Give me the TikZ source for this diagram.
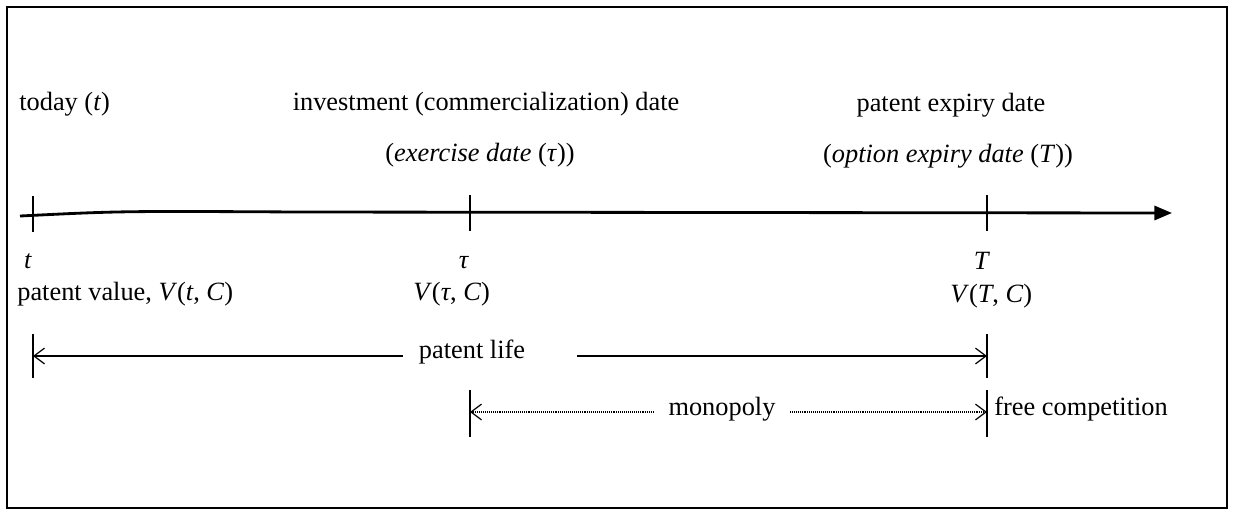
\documentclass[tikz,border=0pt]{standalone}
\usepackage{fontspec}
\setmainfont{Liberation Serif}
\usepackage{tikz}
\usetikzlibrary{arrows.meta}
\tikzset{
  frame/.style={line width=0.8pt,draw=black},
  axis/.style={line width=1.6pt,-{Triangle[length=10pt,width=8pt]}},
  tick/.style={line width=0.8pt},
  span/.style={line width=0.7pt,-{Straight Barb[length=6pt,width=9pt]}},
  dotspan/.style={line width=0.6pt,dash pattern=on 0.5pt off 0.6pt,
    -{Straight Barb[length=6pt,width=9pt,line width=0.7pt]}},
  lbl/.style={inner sep=0pt,font=\fontsize{15}{18}\selectfont}
}
\newcommand{\itx}[1]{\textit{#1}}

\begin{document}
\begin{tikzpicture}[x=0.02cm,y=-0.02cm]
  \useasboundingbox (0,0) rectangle (1233,515);
  \draw[frame] (7,7) rectangle (1227,508);

  % time axis
  \coordinate (start) at (20,216);
  \coordinate (tip) at (1172,213);
  \coordinate (t) at (33,214);
  \coordinate (tau) at (470,213);
  \coordinate (T) at (987,213);
  \draw[axis] (start) .. controls (120,211) .. (300,212) -- (tip);
  \foreach \p in {t,tau,T}
    \draw[tick] ([yshift=10pt]\p) -- ([yshift=-10pt]\p);

  \node[lbl,anchor=base west] (today) at (19,110) {today (\itx{t})};
  \node[lbl,anchor=base] (invest) at (486,110) {investment (commercialization) date};
  \node[lbl,anchor=base] (exer) at (480,161) {(\itx{exercise date} (\itx{τ}))};
  \node[lbl,anchor=base] (expiry) at (951,111) {patent expiry date};
  \node[lbl,anchor=base] (option) at (948,162) {(\itx{option expiry date} (\itx{T}))};

  \node[lbl,anchor=base] (tlab) at (28,268) {\itx{t}};
  \node[lbl,anchor=base] (taulab) at (464,268) {\itx{τ}};
  \node[lbl,anchor=base] (Tlab) at (982,269) {\itx{T}};

  \node[lbl,anchor=base west] (vt) at (17,300) {patent value, \itx{V}(\itx{t}, \itx{C})};
  \node[lbl,anchor=base west] (vtau) at (413,300) {\itx{V}(\itx{τ}, \itx{C})};
  \node[lbl,anchor=base west] (vT) at (950,302) {\itx{V}(\itx{T}, \itx{C})};

  % patent life
  \coordinate (lifeA) at (33,356);
  \coordinate (lifeB) at (987,356);
  \node[lbl] (life) at (472,352) {patent life};
  \coordinate (lifeL) at (403,356);
  \coordinate (lifeR) at (577,356);
  \draw[tick] ([yshift=12.5pt]lifeA) -- ([yshift=-12.5pt]lifeA);
  \draw[tick] ([yshift=12.5pt]lifeB) -- ([yshift=-12.5pt]lifeB);
  \draw[span] (lifeL) -- (lifeA);
  \draw[span] (lifeR) -- (lifeB);

  % monopoly
  \coordinate (monoA) at (470,412);
  \coordinate (monoB) at (987,412);
  \node[lbl] (mono) at (722,409) {monopoly};
  \coordinate (monoL) at (654,412);
  \coordinate (monoR) at (790,412);
  \draw[tick] ([yshift=12.5pt]monoA) -- ([yshift=-14pt]monoA);
  \draw[tick] ([yshift=12.5pt]monoB) -- ([yshift=-14pt]monoB);
  \draw[dotspan] (monoL) -- (monoA);
  \draw[dotspan] (monoR) -- (monoB);
  \node[lbl,anchor=west] (free) at (994,409) {free competition};
\end{tikzpicture}
\end{document}
